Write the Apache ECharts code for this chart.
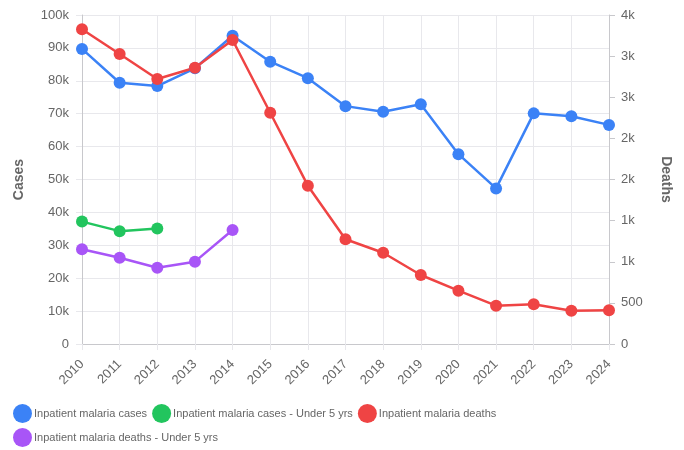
<!DOCTYPE html>
<html>
<head>
<meta charset="utf-8">
<script src="https://cdn.jsdelivr.net/npm/echarts@6/dist/echarts.min.js"></script>
<style>
    html, body { margin: 0; padding: 0; background: #fff; }
    #chart { width: 684px; height: 450px; }
</style>
</head>
<body>
<div id="chart"></div>
<script>
const years = ['2010', '2011', '2012', '2013', '2014', '2015', '2016', '2017', '2018', '2019', '2020', '2021', '2022', '2023', '2024'];

// left axis (cases)
const inpatientCases = [89700, 79400, 78400, 83800, 93700, 85800, 80800, 72300, 70600, 72900, 57700, 47300, 70100, 69200, 66600];
const inpatientCasesU5 = [37200, 34300, 35100, null, null, null, null, null, null, null, null, null, null, null, null];

// right axis (deaths)
const inpatientDeaths = [3826, 3526, 3222, 3359, 3696, 2812, 1925, 1273, 1110, 839, 648, 466, 483, 405, 410];
const inpatientDeathsU5 = [1151, 1049, 928, 1001, 1386, null, null, null, null, null, null, null, null, null, null];

const seriesNames = [
    'Inpatient malaria cases',
    'Inpatient malaria cases - Under 5 yrs',
    'Inpatient malaria deaths',
    'Inpatient malaria deaths - Under 5 yrs'
];
const colors = ['#3b82f6', '#22c55e', '#ef4444', '#a855f7'];

const font = '"Liberation Sans", Arial, Helvetica, sans-serif';
const textColor = '#666';
const gridColor = '#e8e8ec';

function lineSeries(i, data, axis) {
    return {
        name: seriesNames[i],
        type: 'line',
        yAxisIndex: axis,
        data: data,
        symbol: 'circle',
        symbolSize: 12,
        connectNulls: false,
        lineStyle: { width: 2.5, color: colors[i] },
        itemStyle: { color: colors[i] },
        emphasis: { disabled: true }
    };
}

const chart = echarts.init(document.getElementById('chart'), null, { renderer: 'canvas' });
chart.setOption({
    animation: false,
    color: colors,
    textStyle: { fontFamily: font },
    grid: { left: 82, right: 75, top: 15, bottom: 106, containLabel: false },
    legend: {
        left: 13,
        top: 404,
        width: 620,
        icon: 'circle',
        itemWidth: 19,
        itemHeight: 19,
        itemGap: 5,
        padding: 0,
        textStyle: { fontFamily: font, fontSize: 11, color: textColor, padding: [0, 2, 0, -3] },
        data: seriesNames
    },
    xAxis: {
        type: 'category',
        data: years,
        boundaryGap: false,
        axisLine: { lineStyle: { color: '#c8c8cc' } },
        axisTick: { show: true, length: 6, alignWithLabel: true, lineStyle: { color: gridColor } },
        splitLine: { show: true, lineStyle: { color: gridColor } },
        axisLabel: { rotate: 45, fontSize: 13, color: textColor, margin: 18, fontFamily: font }
    },
    yAxis: [
        {
            type: 'value',
            name: 'Cases',
            nameLocation: 'middle',
            nameRotate: 90,
            nameGap: 56,
            nameTextStyle: { fontWeight: 'bold', fontSize: 14, color: textColor, fontFamily: font },
            min: 0,
            max: 100000,
            interval: 10000,
            axisLine: { show: true, lineStyle: { color: '#c8c8cc' } },
            axisTick: { show: true, length: 6, lineStyle: { color: gridColor } },
            splitLine: { show: true, lineStyle: { color: gridColor } },
            axisLabel: {
                fontSize: 13, color: textColor, margin: 13, fontFamily: font,
                formatter: v => v === 0 ? '0' : (v / 1000) + 'k'
            }
        },
        {
            type: 'value',
            name: 'Deaths',
            nameLocation: 'middle',
            nameRotate: -90,
            nameGap: 50,
            nameTextStyle: { fontWeight: 'bold', fontSize: 14, color: textColor, fontFamily: font },
            min: 0,
            max: 4000,
            interval: 500,
            axisLine: { show: true, lineStyle: { color: '#c8c8cc' } },
            axisTick: { show: true, length: 6, lineStyle: { color: '#c8c8cc' } },
            splitLine: { show: false },
            axisLabel: {
                fontSize: 13, color: textColor, margin: 12, fontFamily: font,
                formatter: v => v < 1000 ? String(v) : Math.floor(v / 1000) + 'k'
            }
        }
    ],
    series: [
        lineSeries(0, inpatientCases, 0),
        lineSeries(1, inpatientCasesU5, 0),
        lineSeries(2, inpatientDeaths, 1),
        lineSeries(3, inpatientDeathsU5, 1)
    ]
});
</script>
</body>
</html>
